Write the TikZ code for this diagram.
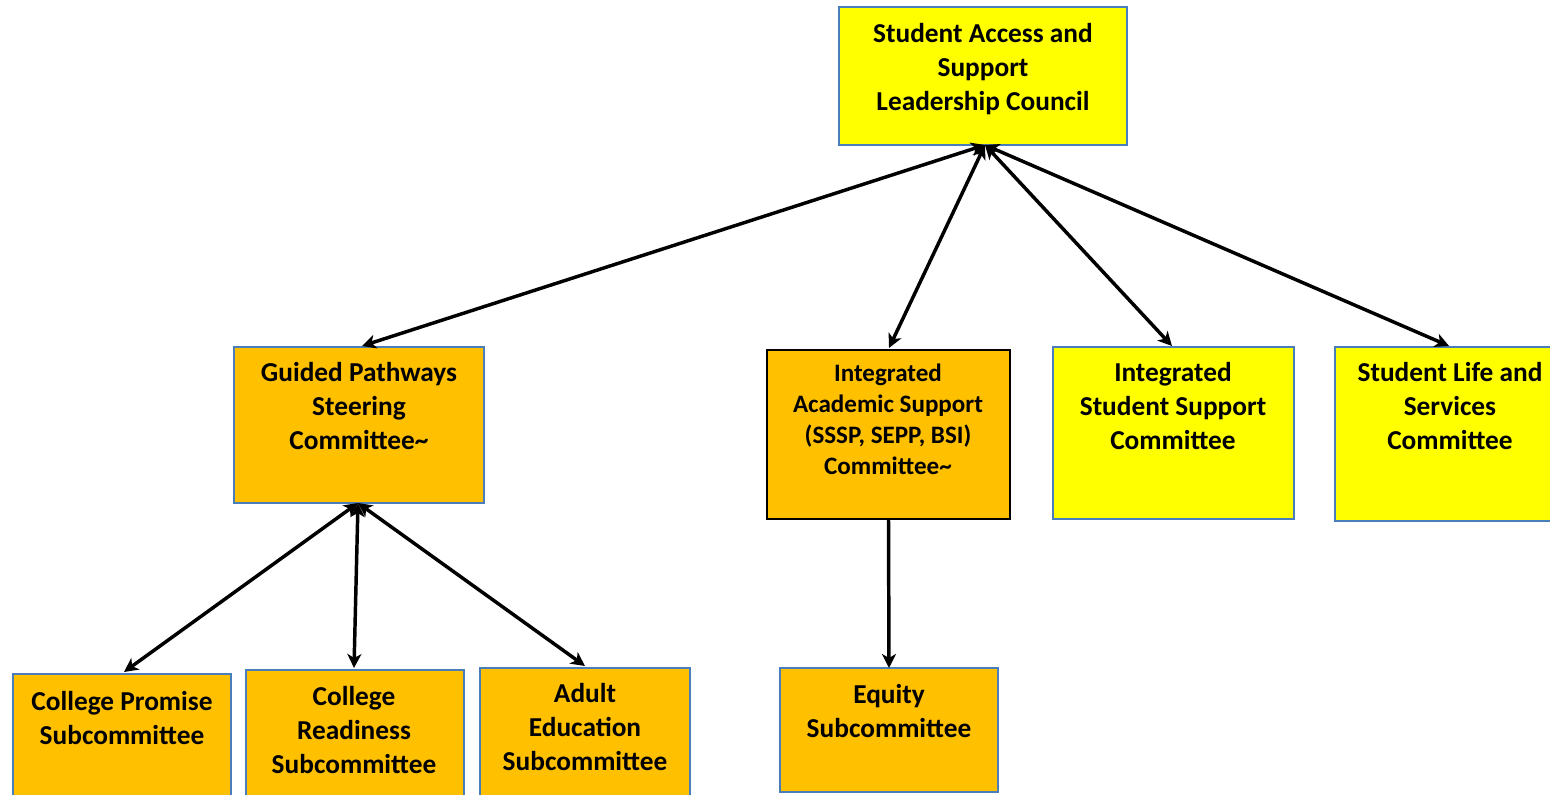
\documentclass[tikz,border=0pt]{standalone}
\usepackage{fontspec}
\setmainfont{Carlito}
\usetikzlibrary{arrows.meta}
\definecolor{byel}{HTML}{FFFF00}
\definecolor{bora}{HTML}{FFC000}
\definecolor{bblue}{HTML}{4A7EBB}
\tikzset{
  box/.style={draw=bblue, line width=1.5pt, inner sep=0pt, outer sep=0pt},
  ybox/.style={box, fill=byel},
  obox/.style={box, fill=bora},
  lbl/.style={anchor=north, inner sep=0pt, align=center, font=\bfseries\fontsize{20.5}{25.5}\selectfont},
  slbl/.style={anchor=north, inner sep=0pt, align=center, font=\bfseries\fontsize{18.8}{23.25}\selectfont},
  tip/.tip={Stealth[length=10.5pt,width=10.5pt,inset=3pt]},
  conn/.style={line width=2.6pt, tip-tip},
  oneway/.style={line width=2.6pt, -tip}
}
\begin{document}
\begin{tikzpicture}[x=0.75pt,y=-0.75pt]
\useasboundingbox (0,0) rectangle (1550,795);
\clip (0,0) rectangle (1550,795);
% boxes
\node[ybox, minimum width=288*0.75pt, minimum height=138*0.75pt] (top) at (983,76) {};
\node[obox, minimum width=250*0.75pt, minimum height=156*0.75pt] (gp) at (359,425) {};
\node[obox, draw=black, minimum width=243*0.75pt, minimum height=169*0.75pt] (ias) at (888.5,434.5) {};
\node[ybox, minimum width=241*0.75pt, minimum height=172*0.75pt] (iss) at (1173.5,433) {};
\node[ybox, minimum width=230*0.75pt, minimum height=174*0.75pt] (sls) at (1450,434) {};
\node[obox, minimum width=218*0.75pt, minimum height=156*0.75pt] (cp) at (122,752) {};
\node[obox, minimum width=218*0.75pt, minimum height=156*0.75pt] (cr) at (355,748) {};
\node[obox, minimum width=210*0.75pt, minimum height=156*0.75pt] (ae) at (585,746) {};
\node[obox, minimum width=218*0.75pt, minimum height=124*0.75pt] (eq) at (889,730) {};
% texts
\node[lbl] (ttop) at (983,23) {Student Access and\\Support\\Leadership Council};
\node[lbl] (tgp) at (359,362) {Guided Pathways\\Steering\\Committee\textasciitilde};
\node[slbl] (tias) at (888,364) {Integrated\\Academic Support\\(SSSP, SEPP, BSI)\\Committee\textasciitilde};
\node[lbl] (tiss) at (1173,362) {Integrated\\Student Support\\Committee};
\node[lbl] (tsls) at (1450,362) {Student Life and\\Services\\Committee};
\node[lbl] (tcp) at (122,691) {College Promise\\Subcommittee};
\node[lbl] (tcr) at (354,686) {College\\Readiness\\Subcommittee};
\node[lbl] (tae) at (585,683) {Adult\\Education\\Subcommittee};
\node[lbl] (teq) at (889,684) {Equity\\Subcommittee};
% connectors
\coordinate (hub) at (985,145);
\coordinate (ghub) at (358,503);
\coordinate (gpin) at (362,346);
\coordinate (iasin) at (889,348);
\coordinate (issin) at (1172,346);
\coordinate (slsin) at (1449,346);
\coordinate (cpin) at (124,672);
\coordinate (crin) at (354,668);
\coordinate (aein) at (585,666);
\draw[conn] (hub) -- (gpin);
\draw[conn] (hub) -- (iasin);
\draw[conn] (hub) -- (issin);
\draw[conn] (hub) -- (slsin);
\draw[conn] (ghub) -- (cpin);
\draw[conn] (ghub) -- (crin);
\draw[conn] (ghub) -- (aein);
\draw[oneway] (ias.south) -- (eq.north);
\end{tikzpicture}
\end{document}
